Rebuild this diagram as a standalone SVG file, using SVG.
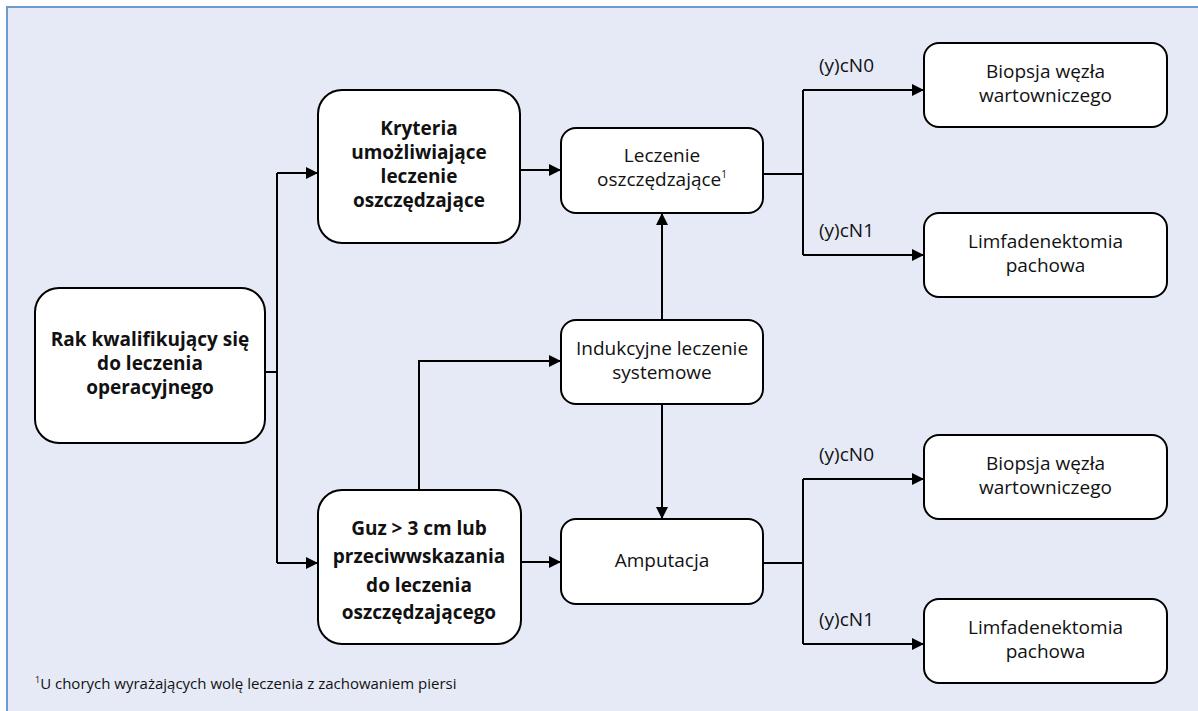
<svg xmlns="http://www.w3.org/2000/svg" width="1198" height="711" viewBox="0 0 1198 711">
<defs>
<marker id="arr" viewBox="0 0 12 12" refX="12" refY="6" markerWidth="12" markerHeight="12" markerUnits="userSpaceOnUse" orient="auto">
<path d="M0,0 L12,6 L0,12 Z" fill="#000"/>
</marker>
<style>
.box{fill:#fff;stroke:#000;stroke-width:2}
.t{font-family:"Open Sans","Noto Sans",sans-serif;font-size:19px;fill:#111;text-anchor:middle}
.b{font-weight:bold}
.lbl{font-family:"Open Sans","Noto Sans",sans-serif;font-size:19px;fill:#111}
.c{fill:none;stroke:#000;stroke-width:2}
.fn{font-family:"Open Sans","Noto Sans",sans-serif;font-size:15px;fill:#111}
</style>
</defs>
<rect x="0" y="0" width="1198" height="711" fill="#fff"/>
<rect x="7" y="7" width="1200" height="720" fill="#E6EAF6" stroke="#7099CF" stroke-width="2"/>

<g id="connectors">
<path class="c" d="M265,372 H277"/>
<path class="c" d="M277,173 V563"/>
<path class="c" d="M277,173 H318" marker-end="url(#arr)"/>
<path class="c" d="M277,563 H318" marker-end="url(#arr)"/>
<path class="c" d="M520,170 H561" marker-end="url(#arr)"/>
<path class="c" d="M521,562 H561" marker-end="url(#arr)"/>
<path class="c" d="M419,490 V361 H561" marker-end="url(#arr)"/>
<path class="c" d="M662,320 V213" marker-end="url(#arr)"/>
<path class="c" d="M662,404 V519" marker-end="url(#arr)"/>
<path class="c" d="M763,174 H803"/>
<path class="c" d="M803,90 V255"/>
<path class="c" d="M803,90 H924" marker-end="url(#arr)"/>
<path class="c" d="M803,255 H924" marker-end="url(#arr)"/>
<path class="c" d="M763,563 H803"/>
<path class="c" d="M803,479 V644"/>
<path class="c" d="M803,479 H924" marker-end="url(#arr)"/>
<path class="c" d="M803,644 H924" marker-end="url(#arr)"/>
<text class="lbl" x="819" y="72">(y)cN0</text>
<text class="lbl" x="819" y="237">(y)cN1</text>
<text class="lbl" x="819" y="461">(y)cN0</text>
<text class="lbl" x="819" y="626">(y)cN1</text>
</g>

<g id="rak">
<rect class="box" x="35" y="288" width="230" height="155" rx="24"/>
<text class="t b"><tspan x="150" y="346">Rak kwalifikujący się</tspan><tspan x="150" y="370">do leczenia</tspan><tspan x="150" y="394">operacyjnego</tspan></text>
</g>

<g id="kryteria">
<rect class="box" x="318" y="90" width="202" height="153" rx="24"/>
<text class="t b"><tspan x="419" y="135">Kryteria</tspan><tspan x="419" y="159">umożliwiające</tspan><tspan x="419" y="183">leczenie</tspan><tspan x="419" y="207">oszczędzające</tspan></text>
</g>

<g id="guz">
<rect class="box" x="318" y="490" width="203" height="154" rx="24"/>
<text class="t b"><tspan x="419" y="535">Guz &gt; 3 cm lub</tspan><tspan x="419" y="563">przeciwwskazania</tspan><tspan x="419" y="592">do leczenia</tspan><tspan x="419" y="619">oszczędzającego</tspan></text>
</g>

<g id="leczenie">
<rect class="box" x="561" y="128" width="202" height="85" rx="15"/>
<text class="t"><tspan x="662" y="162">Leczenie</tspan><tspan x="662" y="186">oszczędzające</tspan><tspan font-size="10" dy="-8">1</tspan></text>
</g>

<g id="indukcyjne">
<rect class="box" x="561" y="320" width="202" height="84" rx="15"/>
<text class="t"><tspan x="662" y="355">Indukcyjne leczenie</tspan><tspan x="662" y="379">systemowe</tspan></text>
</g>

<g id="amputacja">
<rect class="box" x="561" y="519" width="202" height="85" rx="15"/>
<text class="t" x="662" y="567">Amputacja</text>
</g>

<g id="biopsja1">
<rect class="box" x="924" y="43" width="243" height="84" rx="15"/>
<text class="t"><tspan x="1045.5" y="78">Biopsja węzła</tspan><tspan x="1045.5" y="102">wartowniczego</tspan></text>
</g>

<g id="limf1">
<rect class="box" x="924" y="213" width="243" height="84" rx="15"/>
<text class="t"><tspan x="1045.5" y="248">Limfadenektomia</tspan><tspan x="1045.5" y="272">pachowa</tspan></text>
</g>

<g id="biopsja2">
<rect class="box" x="924" y="435" width="243" height="84" rx="15"/>
<text class="t"><tspan x="1045.5" y="470">Biopsja węzła</tspan><tspan x="1045.5" y="494">wartowniczego</tspan></text>
</g>

<g id="limf2">
<rect class="box" x="924" y="599" width="243" height="84" rx="15"/>
<text class="t"><tspan x="1045.5" y="634">Limfadenektomia</tspan><tspan x="1045.5" y="658">pachowa</tspan></text>
</g>

<text class="fn" x="35" y="689"><tspan font-size="9" dy="-6">1</tspan><tspan dy="6">U chorych wyrażających wolę leczenia z zachowaniem piersi</tspan></text>
</svg>
